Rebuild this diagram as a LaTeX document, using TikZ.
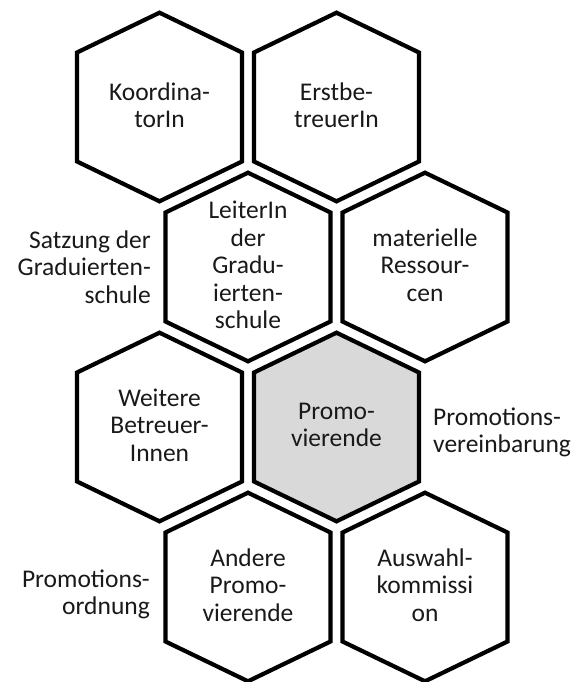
\documentclass[tikz,border=0pt]{standalone}
\usepackage{fontspec}
\setmainfont{Carlito}
\begin{document}
\begin{tikzpicture}[x=1pt,y=-1pt,
  hexline/.style={line width=4.2pt, line join=miter, draw=black},
  hextext/.style={align=center, inner sep=0pt, font=\fontsize{25.5}{27.5}\selectfont, text=black!90},
  sidetext/.style={inner sep=0pt, font=\fontsize{25.5}{27.5}\selectfont, text=black!90}]
\useasboundingbox (0,0) rectangle (577,682);
\definecolor{hexgray}{RGB}{217,217,217}
\newcommand{\hexat}[3]{%
  \draw[hexline,#3] (#1,#2-94.3) -- (#1+82.5,#2-54.5) -- (#1+82.5,#2+54.5) -- (#1,#2+94.3) -- (#1-82.5,#2+54.5) -- (#1-82.5,#2-54.5) -- cycle;}
\hexat{159.5}{107}{fill=white}
\hexat{336.5}{107}{fill=white}
\hexat{248}{267}{fill=white}
\hexat{425}{267}{fill=white}
\hexat{159.5}{427}{fill=white}
\hexat{336.5}{427}{fill=hexgray}
\hexat{248}{587}{fill=white}
\hexat{425}{587}{fill=white}
\node[hextext] (koord) at (159.5,105) {Koordina-\\torIn};
\node[hextext] (erst) at (336.5,105) {Erstbe-\\treuerIn};
\node[hextext] (leiter) at (248,265) {LeiterIn\\der\\Gradu-\\ierten-\\schule};
\node[hextext] (mat) at (425,265) {materielle\\Ressour-\\cen};
\node[hextext] (weit) at (159.5,425) {Weitere\\Betreuer-\\Innen};
\node[hextext] (promo) at (336.5,425) {Promo-\\vierende};
\node[hextext] (andere) at (248,585) {Andere\\Promo-\\vierende};
\node[hextext] (ausw) at (425,585) {Auswahl-\\kommissi\\on};
\node[sidetext, align=right, anchor=east] (satz) at (151,267) {Satzung der\\Graduierten-\\schule};
\node[sidetext, align=left, anchor=west] (verein) at (433,432.5) {Promotions-\\vereinbarung};
\node[sidetext, align=right, anchor=east] (ordn) at (150,594.5) {Promotions-\\ordnung};
\end{tikzpicture}
\end{document}
